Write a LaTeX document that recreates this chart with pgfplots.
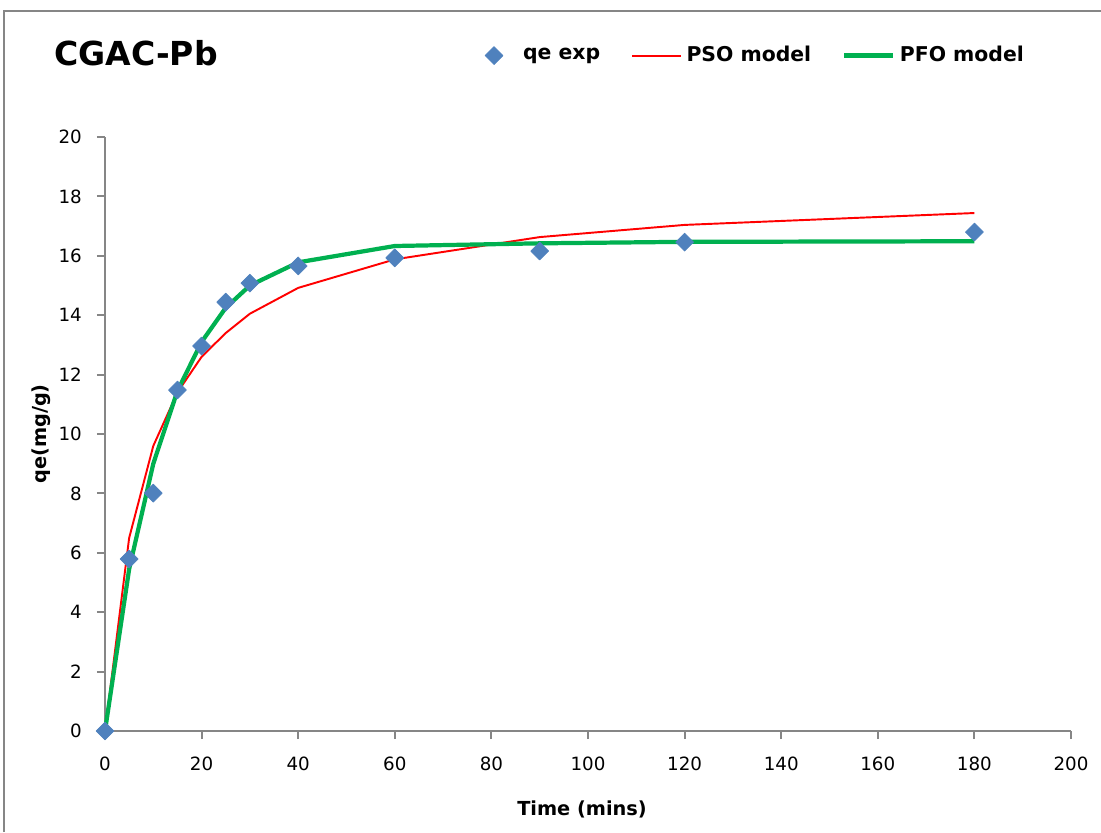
\documentclass[border=0pt]{standalone}
\usepackage{fontspec}
\setmainfont{DejaVu Sans}
\usepackage{pgfplots}
\pgfplotsset{compat=1.18}

\definecolor{expblue}{HTML}{4F81BD}
\definecolor{psored}{HTML}{FF0000}
\definecolor{pfogreen}{HTML}{00B050}
\definecolor{axgray}{HTML}{868686}

\pgfplotsset{
    exp legend/.style={legend image code/.code={%
        \path[draw=none] (0mm,0mm) -- (9.8mm,0mm);
        \draw[##1, only marks] plot coordinates {(4.9mm,0mm)};}},
    model legend/.style={legend image code/.code={%
        \draw[##1] (0mm,0mm) -- (9.8mm,0mm);}},
}

\begin{document}
\begin{tikzpicture}
\path[use as bounding box] (0,0) rectangle (220.2mm,166.4mm);
% chart area border (only left and top show)
\draw[axgray, line width=0.35mm] (0.8mm,0) -- (0.8mm,164.2mm) -- (220.2mm,164.2mm);
\begin{axis}[
    at={(21mm,20.2mm)}, anchor=south west,
    scale only axis,
    width=193.2mm, height=118.8mm,
    xmin=0, xmax=200, ymin=0, ymax=20,
    xtick={0,20,...,200},
    ytick={0,2,...,20},
    axis lines=left,
    axis line style={-, draw=axgray, line width=0.4mm},
    tick style={draw=axgray, line width=0.4mm},
    major tick length=1.6mm,
    tick align=outside,
    ticklabel style={font=\fontsize{10.4}{12}\selectfont},
    xticklabel style={yshift=-2.4mm},
    yticklabel style={xshift=-1.8mm},
    /pgf/number format/assume math mode=true,
    xlabel={Time (mins)},
    ylabel={qe(mg/g)},
    label style={font=\fontsize{11}{13}\bfseries},
    xlabel style={at={(axis description cs:0.4938,-0.1414)}, anchor=base},
    ylabel style={at={(axis description cs:-0.0663,0.5)}, anchor=center},
    title={CGAC-Pb},
    title style={at={(axis description cs:-0.0590,1.1027)}, anchor=base west,
        font=\fontsize{18.8}{21}\bfseries},
    clip=false,
    legend columns=3,
    legend cell align=left,
    legend style={at={(axis description cs:0.3770,1.1371)}, anchor=west,
        draw=none, fill=none, inner sep=0pt,
        nodes={inner sep=0pt, font=\fontsize{11.6}{14}\bfseries},
        /tikz/every odd column/.append style={column sep=0.9mm},
        /tikz/every even column/.append style={column sep=6.2mm}},
    every axis plot/.append style={line join=round},
]
\addlegendimage{exp legend, only marks, mark=square*, mark size=3.6pt,
    mark options={rotate=45, fill=expblue, draw=expblue}}
\addlegendentry{qe exp}

\addplot[model legend, psored, line width=1.1pt, mark=none] coordinates {
    (0,0) (5,6.5) (10,9.6) (15,11.4) (20,12.6) (25,13.4) (30,14.05)
    (40,14.92) (60,15.88) (90,16.63) (120,17.04) (180,17.44)
};
\addlegendentry{PSO model}

\addplot[model legend, pfogreen, line width=2.4pt, mark=none] coordinates {
    (0,0) (5,5.45) (10,9.0) (15,11.45) (20,13.1) (25,14.25) (30,15.0)
    (40,15.78) (60,16.33) (90,16.42) (120,16.47) (180,16.49)
};
\addlegendentry{PFO model}

\addplot[forget plot, only marks, mark=square*, mark size=3.6pt,
    mark options={rotate=45, fill=expblue, draw=expblue}] coordinates {
    (0,0) (5,5.79) (10,8.01) (15,11.48) (20,12.96) (25,14.44) (30,15.08)
    (40,15.66) (60,15.93) (90,16.16) (120,16.46) (180,16.80)
};
\end{axis}
\end{tikzpicture}
\end{document}
